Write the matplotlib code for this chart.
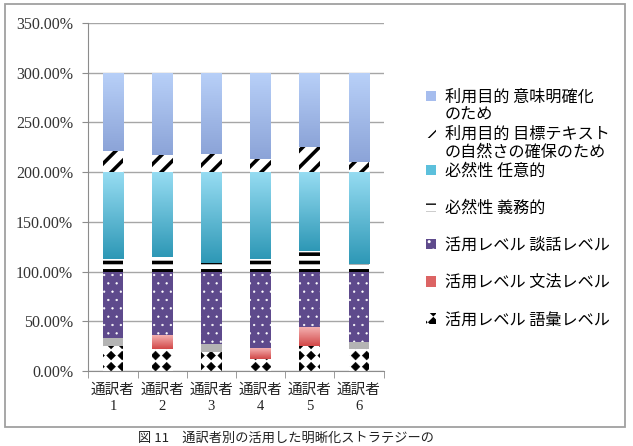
import warnings
import numpy as np
import matplotlib
matplotlib.use('Agg')
import matplotlib.pyplot as plt
import matplotlib.hatch as mhatch
from matplotlib.path import Path
from matplotlib.patches import Rectangle
from matplotlib.colors import LinearSegmentedColormap
from matplotlib.ticker import PercentFormatter, FixedLocator

warnings.filterwarnings('ignore')

# data (percent, each group of series sums to 100)
interpreters = ['通訳者\n1', '通訳者\n2', '通訳者\n3', '通訳者\n4', '通訳者\n5', '通訳者\n6']
vocab = [25.2, 22.6, 19.1, 12.5, 25.2, 22.6]          # 活用レベル 語彙レベル
grammar = [0, 13.4, 0, 10.7, 19.1, 0]                 # 活用レベル 文法レベル
unlabeled = [7.5, 0, 7.8, 0, 0, 6.7]                  # gray piece, not in legend
discourse = [67.3, 64.0, 73.1, 76.8, 55.7, 70.7]      # 活用レベル 談話レベル
obligatory = [13.1, 14.8, 9.1, 12.4, 20.8, 7.4]       # 必然性 義務的
optional = [86.9, 85.2, 90.9, 87.6, 79.2, 92.6]       # 必然性 任意的
target_text = [21.1, 17.4, 18.1, 13.1, 24.8, 10.7]    # 利用目的 目標テキストの自然さの確保のため
clarify = [78.9, 82.6, 81.9, 86.9, 75.2, 89.3]        # 利用目的 意味明確化のため

# legend labels: first line in the legend, wrapped rest drawn under it
label_lines = {
    '利用目的 意味明確化': 'のため',
    '利用目的 目標テキスト': 'の自然さの確保のため',
}


# black diamond grid hatch ('d')
class DiamondHatch(mhatch.HatchPatternBase):
    def __init__(self, hatch, density):
        self.num_rows = hatch.count('d') * density // 2
        self.num_vertices = (self.num_rows + 1) ** 2 * 5 if self.num_rows else 0

    def set_vertices_and_codes(self, vertices, codes):
        n = self.num_rows
        r = 0.40 / n
        shape = np.array([[0, -r], [r, 0], [0, r], [-r, 0], [0, -r]])
        k = 0
        for i in range(n + 1):
            for j in range(n + 1):
                vertices[k:k + 5] = shape + [i / n, j / n]
                codes[k:k + 5] = [Path.MOVETO, Path.LINETO, Path.LINETO, Path.LINETO, Path.CLOSEPOLY]
                k += 5


mhatch._hatch_types.append(DiamondHatch)

plt.rcParams['font.family'] = ['Noto Sans CJK JP', 'DejaVu Sans']

fig = plt.figure(figsize=(6.33, 4.46), dpi=100)
ax = fig.add_axes([88.4 / 633, 1 - 371 / 446, 295.2 / 633, 348 / 446])

x = np.arange(len(interpreters))
w = 0.42


def gradient_fill(bars, top, bottom):
    cmap = LinearSegmentedColormap.from_list('g', [bottom, top])
    grad = np.linspace(0, 1, 64).reshape(-1, 1)
    for b in bars:
        if b.get_height() <= 0:
            continue
        x0, y0 = b.get_x(), b.get_y()
        im = ax.imshow(grad, cmap=cmap, origin='lower', aspect='auto', interpolation='bilinear',
                       extent=[x0, x0 + b.get_width(), y0, y0 + b.get_height()], zorder=2.1)
        im.set_clip_path(b)


def set_hlw(bars, lw):
    for b in bars:
        b.set_hatch_linewidth(lw)


bottom = np.zeros(len(x))
handles = []

b = ax.bar(x, vocab, w, bottom=bottom, facecolor='white', edgecolor='black', linewidth=0,
           hatch='ddd', label='活用レベル 語彙レベル', zorder=2)
set_hlw(b, 0.3)
handles.append(b)
bottom += vocab

b = ax.bar(x, grammar, w, bottom=bottom, color='#dc6464', linewidth=0,
           label='活用レベル 文法レベル', zorder=2)
gradient_fill(b, '#f4b0b0', '#d24848')
handles.append(b)
bottom += grammar

b = ax.bar(x, unlabeled, w, bottom=bottom, color='#b4b4b4', linewidth=0, zorder=2)
bottom += unlabeled

b = ax.bar(x, discourse, w, bottom=bottom, facecolor='#5e4a8c', edgecolor='white', linewidth=0,
           hatch='..', label='活用レベル 談話レベル', zorder=2)
set_hlw(b, 0.4)
handles.append(b)
bottom += discourse

b = ax.bar(x, obligatory, w, bottom=bottom, facecolor='white', edgecolor='black', linewidth=0,
           hatch='--', label='必然性 義務的', zorder=2)
set_hlw(b, 2.6)
handles.append(b)
bottom += obligatory

b = ax.bar(x, optional, w, bottom=bottom, color='#5cc0dc', linewidth=0,
           label='必然性 任意的', zorder=2)
gradient_fill(b, '#96dcf2', '#2e98b6')
handles.append(b)
bottom += optional

b = ax.bar(x, target_text, w, bottom=bottom, facecolor='white', edgecolor='black', linewidth=0,
           hatch='//', label='利用目的 目標テキスト', zorder=2)
set_hlw(b, 2.6)
handles.append(b)
bottom += target_text

b = ax.bar(x, clarify, w, bottom=bottom, color='#a6bdee', linewidth=0,
           label='利用目的 意味明確化', zorder=2)
gradient_fill(b, '#b8d0f8', '#8ca4d8')
handles.append(b)
bottom += clarify

ax.set_xlim(-0.5, len(x) - 0.5)
ax.set_ylim(0, 350)
ax.set_yticks(np.arange(0, 351, 50))
ax.yaxis.set_major_formatter(PercentFormatter(decimals=2))
ax.set_axisbelow(True)
ax.grid(axis='y', color='#a6a6a6', linewidth=1.0)

ax.set_xticks(x)
ax.set_xticklabels(interpreters, family=['Liberation Serif', 'Noto Sans CJK JP'], fontsize=10.5,
                   linespacing=1.35, color='#222222')
ax.xaxis.set_minor_locator(FixedLocator(np.arange(-0.5, len(x), 1)))
ax.tick_params(axis='x', which='major', length=0, pad=9)
ax.tick_params(axis='x', which='minor', length=5, color='#8c8c8c')
ax.tick_params(axis='y', length=4, color='#8c8c8c', pad=7)
for lab in ax.get_yticklabels():
    lab.set_family(['Liberation Serif', 'DejaVu Sans'])
    lab.set_fontsize(11.5)
    lab.set_color('#333333')

for s in ['top', 'right']:
    ax.spines[s].set_visible(False)
for s in ['left', 'bottom']:
    ax.spines[s].set_color('#8c8c8c')

leg_fs = 11.6
leg = ax.legend(handles[::-1], [h.get_label() for h in handles[::-1]],
                loc='upper left', bbox_to_anchor=(420 / 633, 1 - 82 / 446), bbox_transform=fig.transFigure,
                frameon=False, fontsize=leg_fs, handlelength=0.6, handleheight=0.6, handletextpad=0.55,
                labelspacing=1.25, borderaxespad=0)

# second lines of the wrapped legend labels
fig.canvas.draw()
for t in leg.get_texts():
    rest = label_lines.get(t.get_text())
    if rest:
        bb = t.get_window_extent()
        fig.text(bb.x0 / fig.bbox.width, (bb.y0 + bb.y1) / 2 / fig.bbox.height - 18.5 / 446, rest,
                 fontsize=leg_fs, va='center', ha='left')

fig.patches.append(Rectangle((5 / 633, 1 - 427 / 446), 620 / 633, 423 / 446, transform=fig.transFigure,
                             fill=False, edgecolor='#a0a0a0', linewidth=1.3))
fig.text(138 / 633, 1 - 438 / 446, '図 11　通訳者別の活用した明晰化ストラテジーの', fontsize=9.5,
         va='center', ha='left', color='#222222')

fig.savefig('out.png', dpi=100)
